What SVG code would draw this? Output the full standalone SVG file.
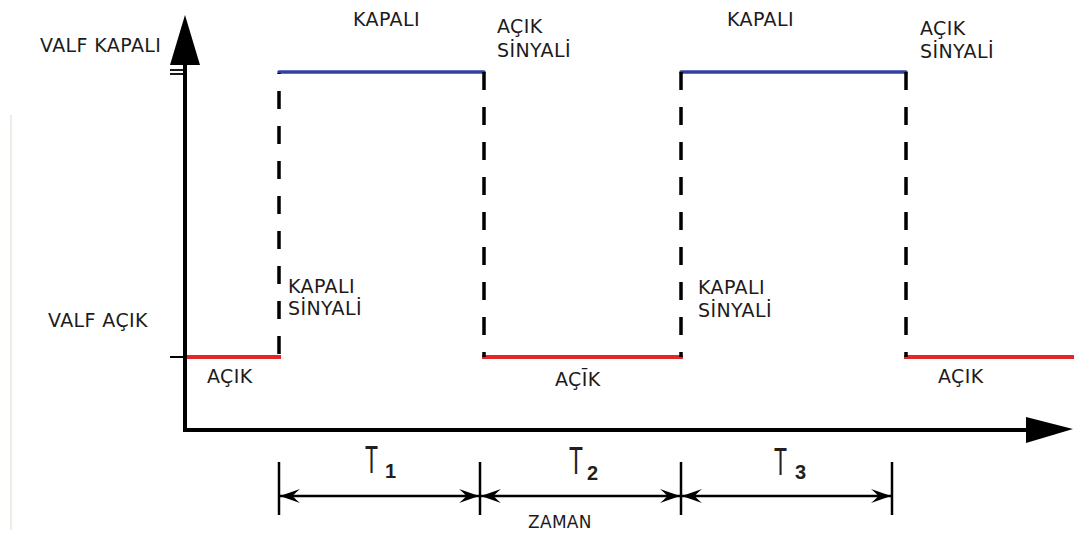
<svg xmlns="http://www.w3.org/2000/svg" width="1074" height="533" viewBox="0 0 1074 533">
  <style>
    .lbl { font-family: "DejaVu Sans", "Liberation Sans", sans-serif; font-size: 19px; letter-spacing: 0.4px; fill: #1e1b1c; }
    .small { font-size: 17px; letter-spacing: 0.3px; }
    .per { font-family: "Liberation Sans", Arial, sans-serif; fill: #231f20; }
    .tee { font-size: 39px; }
    .sub { font-size: 20px; font-weight: bold; }
    .axis { stroke: #000; stroke-width: 4; fill: none; }
    .closed { stroke: #3440a0; stroke-width: 3.5; fill: none; stroke-linecap: round; }
    .open { stroke: #e3262a; stroke-width: 4; fill: none; }
    .edge { stroke: #000; stroke-width: 3.5; fill: none; stroke-dasharray: 18 17; }
    .dim { stroke: #000; stroke-width: 2.5; fill: none; }
    .tick { stroke: #000; stroke-width: 2.5; fill: none; }
  </style>
  <defs>
    <marker id="barb" viewBox="-20 -8 21 16" refX="0" refY="0" markerWidth="21" markerHeight="16" markerUnits="userSpaceOnUse" orient="auto-start-reverse">
      <path d="M0,0 L-20,-7 Q-14,-2 -13,0 Q-14,2 -20,7 Z" fill="#000"/>
    </marker>
  </defs>

  <rect width="1074" height="533" fill="#fff"/>
  <!-- faint page edge -->
  <line x1="11" y1="115" x2="11" y2="530" stroke="#ebe6dc" stroke-width="1.5"/>

  <!-- axes -->
  <g id="axes">
    <line class="axis" x1="185" y1="432" x2="185" y2="55"/>
    <polygon points="185,15 170,65 200,65" fill="#000"/>
    <line class="axis" x1="183" y1="430" x2="1035" y2="430"/>
    <polygon points="1073,429 1026,417 1026,443" fill="#000"/>
    <line x1="170" y1="70" x2="185" y2="70" stroke="#000" stroke-width="1.8"/>
    <line x1="170" y1="74" x2="185" y2="74" stroke="#000" stroke-width="1.8"/>
    <line x1="170" y1="357" x2="185" y2="357" stroke="#000" stroke-width="2"/>
  </g>

  <!-- axis labels -->
  <g id="valf-kapali"><text class="lbl" x="40" y="52">VALF KAPALI</text></g>
  <g id="valf-acik"><text class="lbl" x="48" y="327">VALF AÇIK</text></g>

  <!-- signal levels and transitions -->
  <g id="connectors">
    <line class="open" x1="187" y1="357" x2="281" y2="357"/>
    <line class="open" x1="482" y1="357" x2="683" y2="357"/>
    <line class="open" x1="904" y1="357" x2="1074" y2="357"/>
    <line class="closed" x1="279" y1="72" x2="484" y2="72"/>
    <line class="closed" x1="681" y1="72" x2="906" y2="72"/>
    <line class="edge" x1="279" y1="73" x2="279" y2="355" stroke-dashoffset="17"/>
    <line class="edge" x1="484" y1="72" x2="484" y2="357"/>
    <line class="edge" x1="681" y1="72" x2="681" y2="357"/>
    <line class="edge" x1="906" y1="72" x2="906" y2="357"/>

    <!-- period dimension lines -->
    <line class="tick" x1="279" y1="462" x2="279" y2="515"/>
    <line class="tick" x1="480" y1="462" x2="480" y2="515"/>
    <line class="tick" x1="681" y1="462" x2="681" y2="515"/>
    <line class="tick" x1="892" y1="462" x2="892" y2="515"/>
    <line class="dim" x1="280" y1="496" x2="479" y2="496" marker-start="url(#barb)" marker-end="url(#barb)"/>
    <line class="dim" x1="481" y1="496" x2="680" y2="496" marker-start="url(#barb)" marker-end="url(#barb)"/>
    <line class="dim" x1="682" y1="496" x2="891" y2="496" marker-start="url(#barb)" marker-end="url(#barb)"/>
  </g>

  <!-- state labels -->
  <g id="kapali-1"><text class="lbl" x="353" y="26">KAPALI</text></g>
  <g id="kapali-2"><text class="lbl" x="727" y="26">KAPALI</text></g>
  <g id="acik-sinyali-1">
    <text class="lbl" x="497" y="33">AÇIK</text>
    <text class="lbl" x="497" y="57">SİNYALİ</text>
  </g>
  <g id="acik-sinyali-2">
    <text class="lbl" x="920" y="35">AÇIK</text>
    <text class="lbl" x="920" y="58">SİNYALİ</text>
  </g>
  <g id="kapali-sinyali-1">
    <text class="lbl" x="288" y="293">KAPALI</text>
    <text class="lbl" x="288" y="315">SİNYALİ</text>
  </g>
  <g id="kapali-sinyali-2">
    <text class="lbl" x="698" y="294">KAPALI</text>
    <text class="lbl" x="698" y="317">SİNYALİ</text>
  </g>
  <g id="acik-1"><text class="lbl" x="207" y="383">AÇIK</text></g>
  <g id="acik-2"><text class="lbl" x="555" y="386">AÇĪK</text></g>
  <g id="acik-3"><text class="lbl" x="938" y="383">AÇIK</text></g>

  <!-- periods: tall narrow T with bold subscript -->
  <g id="t1">
    <text class="per"><tspan class="tee" x="365" y="473" textLength="13" lengthAdjust="spacingAndGlyphs">T</tspan><tspan class="sub" x="385" y="478">1</tspan></text>
  </g>
  <g id="t2">
    <text class="per"><tspan class="tee" x="569" y="474" textLength="14" lengthAdjust="spacingAndGlyphs">T</tspan><tspan class="sub" x="587" y="480">2</tspan></text>
  </g>
  <g id="t3">
    <text class="per"><tspan class="tee" x="774" y="475" textLength="13" lengthAdjust="spacingAndGlyphs">T</tspan><tspan class="sub" x="795" y="479">3</tspan></text>
  </g>
  <g id="zaman"><text class="lbl small" x="528" y="528">ZAMAN</text></g>
</svg>
